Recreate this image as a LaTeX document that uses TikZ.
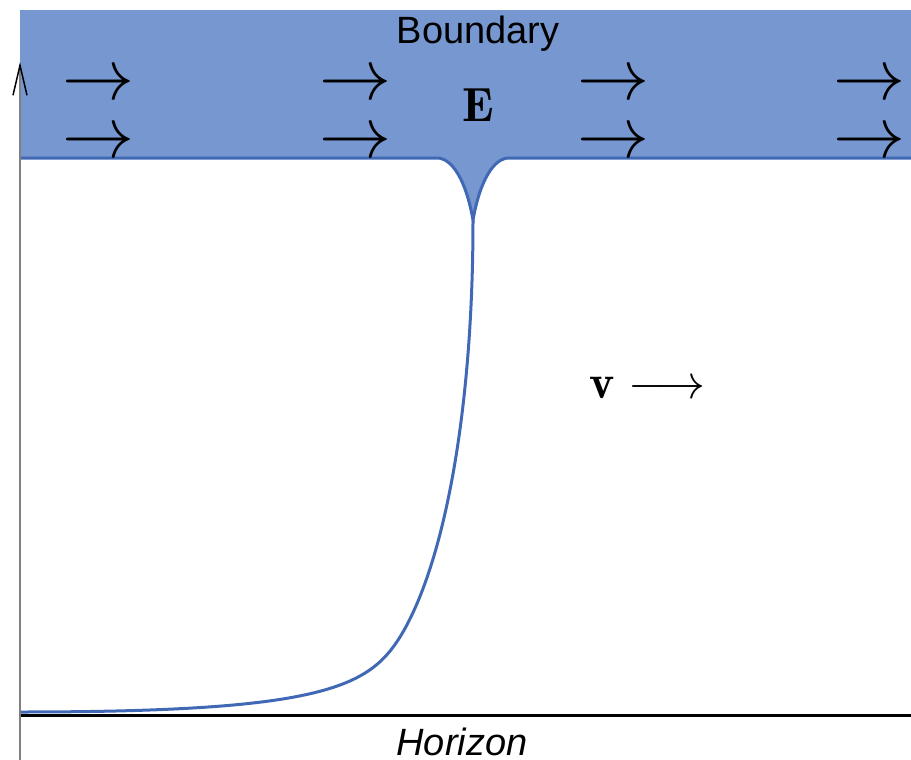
\documentclass[tikz,border=0pt]{standalone}
\usepackage{fontspec}
\setsansfont{Liberation Sans}
\usetikzlibrary{arrows.meta}
\definecolor{bndfill}{RGB}{118,151,207}
\definecolor{bndedge}{RGB}{64,104,180}

\begin{document}
\begin{tikzpicture}[
  x=0.5pt,y=-0.5pt,
  sanslabel/.style={font=\sffamily\fontsize{19}{22}\selectfont,inner sep=0pt,anchor=base},
  sym/.style={scale=2.4,inner sep=0pt,anchor=base},
  flow/.style={scale=3.6,inner sep=0pt,anchor=base},
  edgeline/.style={draw=bndedge,line width=1.5pt}
]
\useasboundingbox (0,0) rectangle (911,760);

% boundary layer with its dip
\fill[bndfill] (20,10) -- (911,10) -- (911,158) -- (509,158)
  .. controls (494,158) and (480,180) .. (473,220)
  .. controls (466,180) and (452,158) .. (437,158) -- (20,158) -- cycle;
\draw[edgeline] (20,158) -- (437,158)
  .. controls (452,158) and (466,180) .. (473,220)
  .. controls (480,180) and (494,158) .. (509,158) -- (911,158);

% the rising line down to the horizon
\draw[edgeline] (20,712) .. controls (320,712) and (368,688) .. (400,637)
  .. controls (442,569) and (473,420) .. (473,220);

\draw[line width=1.5pt] (20,715) -- (911,715);
\draw[gray,line width=0.75pt,-{Straight Barb[length=15pt,width=7pt,color=black]}]
  (20,760) -- (20,62);

% flow arrows inside the boundary layer
\foreach \x in {98,355,613,869}
  \foreach \y in {99,157}
    \node[flow] (fl-\x-\y) at (\x,\y) {$\rightarrow$};

\node[sanslabel] (bnd) at (478,43) {Boundary};
\node[sym] (efield) at (478,121) {$\mathbf{E}$};
\node[sym,anchor=base west] (vel) at (589,398) {$\mathbf{v}\longrightarrow$};
\node[sanslabel,font=\sffamily\itshape\fontsize{19}{22}\selectfont] (hor) at (462,755) {Horizon};

\end{tikzpicture}
\end{document}
